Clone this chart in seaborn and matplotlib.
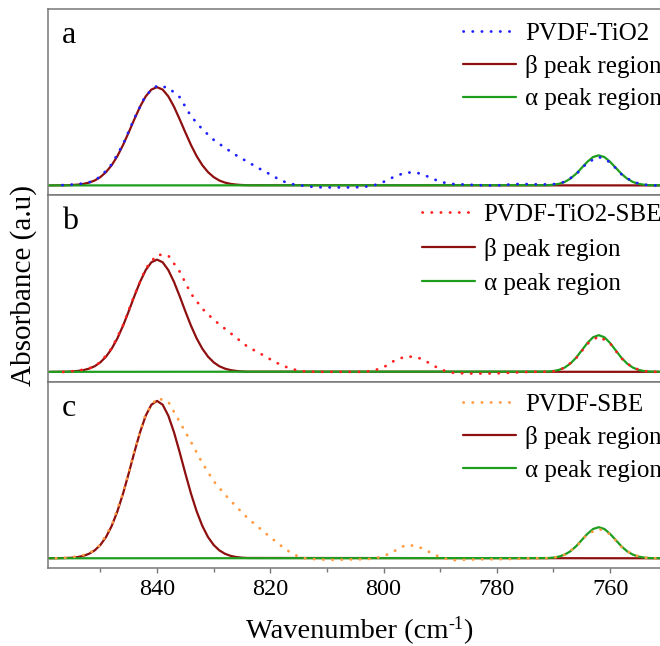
import numpy as np
import seaborn as sns
import matplotlib
matplotlib.use("Agg")
from matplotlib import pyplot as plt
from matplotlib.ticker import MultipleLocator

sns.set_theme(style="ticks")
plt.rcParams["font.family"] = ["Liberation Serif", "DejaVu Serif"]
plt.rcParams["text.color"] = "black"
plt.rcParams["xtick.labelcolor"] = "black"

# wavenumber grids (cm-1)
wn_meas = np.arange(858, 751, -2)
wn_beta = np.arange(856, 823, -1)
wn_alpha = np.arange(771, 752, -1)
wn_ends = [859, 750]

panels = ["a", "b", "c"]
samples = ["PVDF-TiO2", "PVDF-TiO2-SBE", "PVDF-SBE"]
sample_colors = ["#1f1fff", "#ff2020", "#ff9a40"]
beta_label = "β peak region"
alpha_label = "α peak region"

meas_a = [0.0, 0.005, 0.012, 0.03, 0.085, 0.21, 0.41, 0.67, 0.90, 0.995,
          0.975, 0.88, 0.69, 0.56, 0.455, 0.375, 0.30, 0.235, 0.17, 0.11,
          0.045, 0.012, -0.005, -0.018, -0.02, -0.02, -0.02, -0.017, -0.005, 0.035,
          0.09, 0.13, 0.125, 0.085, 0.035, 0.015, 0.01, 0.005, 0.0, 0.0,
          0.008, 0.015, 0.012, 0.01, 0.012, 0.035, 0.11, 0.228, 0.285, 0.232,
          0.112, 0.035, 0.007, 0.0]
meas_b = [-0.005, 0.0, 0.012, 0.033, 0.095, 0.235, 0.465, 0.765, 1.03, 1.17,
          1.16, 1.00, 0.78, 0.63, 0.52, 0.43, 0.34, 0.25, 0.19, 0.125,
          0.065, 0.025, 0.005, 0.0, 0.0, 0.0, 0.0, 0.0, 0.008, 0.045,
          0.115, 0.155, 0.145, 0.09, 0.025, -0.008, -0.015, -0.017, -0.017, -0.015,
          -0.01, -0.005, 0.0, 0.0, 0.005, 0.04, 0.135, 0.28, 0.355, 0.285,
          0.135, 0.04, 0.008, 0.0]
meas_c = [0.0, 0.006, 0.018, 0.046, 0.135, 0.33, 0.65, 1.07, 1.44, 1.60,
          1.56, 1.36, 1.16, 0.95, 0.77, 0.635, 0.515, 0.40, 0.305, 0.21,
          0.12, 0.04, 0.0, -0.01, -0.015, -0.015, -0.012, -0.01, -0.005, 0.02,
          0.075, 0.135, 0.12, 0.065, 0.01, -0.02, -0.015, -0.012, -0.01, -0.01,
          -0.008, -0.005, 0.0, 0.0, 0.005, 0.035, 0.115, 0.24, 0.295, 0.24,
          0.115, 0.035, 0.007, 0.0]

# fitted beta peak (856 -> 824, step 1)
beta_a = [0.002, 0.004, 0.008, 0.015, 0.028, 0.049, 0.083, 0.133, 0.202, 0.292, 0.403,
          0.529, 0.660, 0.785, 0.888, 0.956, 0.98, 0.956, 0.888, 0.785, 0.660, 0.529,
          0.403, 0.292, 0.202, 0.133, 0.083, 0.049, 0.028, 0.015, 0.008, 0.004, 0.002]
beta_b = [0.002, 0.004, 0.009, 0.017, 0.032, 0.056, 0.095, 0.152, 0.231, 0.334, 0.460,
          0.604, 0.755, 0.897, 1.015, 1.093, 1.12, 1.093, 1.015, 0.897, 0.755, 0.604,
          0.460, 0.334, 0.231, 0.152, 0.095, 0.056, 0.032, 0.017, 0.009, 0.004, 0.002]
beta_c = [0.003, 0.006, 0.012, 0.024, 0.045, 0.079, 0.133, 0.212, 0.323, 0.468, 0.645,
          0.847, 1.058, 1.257, 1.422, 1.532, 1.57, 1.532, 1.422, 1.257, 1.058, 0.847,
          0.645, 0.468, 0.323, 0.212, 0.133, 0.079, 0.045, 0.024, 0.012, 0.006, 0.003]

# fitted alpha peak (771 -> 753, step 1)
alpha_a = [0.002, 0.007, 0.016, 0.035, 0.068, 0.116, 0.176, 0.236, 0.283, 0.30,
           0.283, 0.236, 0.176, 0.116, 0.068, 0.035, 0.016, 0.007, 0.002]
alpha_b = [0.003, 0.008, 0.020, 0.043, 0.083, 0.141, 0.214, 0.288, 0.345, 0.366,
           0.345, 0.288, 0.214, 0.141, 0.083, 0.043, 0.020, 0.008, 0.003]
alpha_c = [0.002, 0.007, 0.017, 0.037, 0.070, 0.120, 0.182, 0.244, 0.292, 0.31,
           0.292, 0.244, 0.182, 0.120, 0.070, 0.037, 0.017, 0.007, 0.002]

measured = [meas_a, meas_b, meas_c]
betas = [beta_a, beta_b, beta_c]
alphas = [alpha_a, alpha_b, alpha_c]

W, H = 660, 646
fig = plt.figure(figsize=(6.6, 6.46), dpi=100)
left, right = 48 / W, 665 / W
top, bottom = 9, 568.3
ph = (bottom - top) / 3

# legend placement per panel (px below axes top, row spacing)
leg_off = [13, 8, 11.5]
leg_space = [0.41, 0.47, 0.41]

spine_col = "#777777"
axes = []
for i in range(3):
    y0 = 1 - (top + ph * (i + 1)) / H
    ax = fig.add_axes([left, y0, right - left, ph / H], sharex=axes[0] if axes else None)
    axes.append(ax)

    fx_b = [wn_ends[0]] + list(wn_beta) + [wn_ends[1]]
    fy_b = [0.0] + betas[i] + [0.0]
    fx_a = [wn_ends[0]] + list(wn_alpha) + [wn_ends[1]]
    fy_a = [0.0] + alphas[i] + [0.0]

    sns.lineplot(x=wn_meas, y=measured[i], ax=ax, color=sample_colors[i], lw=2.0,
                 linestyle=(0, (0.1, 3.2)), dash_capstyle="round",
                 label=samples[i], errorbar=None, zorder=4)
    sns.lineplot(x=fx_b, y=fy_b, ax=ax, color="#8e0f0f", lw=1.6,
                 label=beta_label, errorbar=None, zorder=2)
    sns.lineplot(x=fx_a, y=fy_a, ax=ax, color="#1e9e1e", lw=1.6,
                 label=alpha_label, errorbar=None, zorder=3)

    ax.set_xlim(859.25, 750.3)
    ax.set_ylim(-0.1, 1.76)
    ax.set_yticks([])
    ax.set_ylabel("")
    ax.set_xlabel("")
    for s in ax.spines.values():
        s.set_color(spine_col)
        s.set_linewidth(1.1)

    ax.text(0.022, 1 - 34 / ph, panels[i], transform=ax.transAxes,
            fontsize=23, va="baseline", ha="left")

    ax.legend(loc="upper right", bbox_to_anchor=(0.995, 1 - leg_off[i] / ph), frameon=False,
              fontsize=18, handlelength=2.12, handletextpad=0.36, labelspacing=leg_space[i],
              borderpad=0, borderaxespad=0)

    if i < 2:
        ax.tick_params(axis="x", which="both", bottom=False, labelbottom=False)

axb = axes[-1]
axb.xaxis.set_major_locator(MultipleLocator(20))
axb.xaxis.set_minor_locator(MultipleLocator(10))
axb.tick_params(axis="x", which="major", length=3.6, width=1.0, color=spine_col,
                labelsize=17.5, pad=4, direction="out")
axb.tick_params(axis="x", which="minor", length=3.0, width=1.0, color=spine_col,
                direction="out")

# x label with a plain hyphen in the superscript
rend = fig.canvas.get_renderer()
base_y = 1 - 638 / H
t1 = fig.text(0, base_y, "Wavenumber (cm", fontsize=20.5, va="baseline", ha="left")
t2 = fig.text(0, base_y + 9 / H, "-1", fontsize=13, va="baseline", ha="left")
t3 = fig.text(0, base_y, ")", fontsize=20.5, va="baseline", ha="left")
w1 = t1.get_window_extent(rend).width
w2 = t2.get_window_extent(rend).width
w3 = t3.get_window_extent(rend).width
x0 = 359 - (w1 + w2 + w3) / 2
t1.set_x(x0 / W)
t2.set_x((x0 + w1) / W)
t3.set_x((x0 + w1 + w2) / W)

fig.text(24 / W, 1 - 286 / H, "Absorbance (a.u)", fontsize=21,
         rotation=90, ha="center", va="center")

fig.savefig("out.png", dpi=100)
